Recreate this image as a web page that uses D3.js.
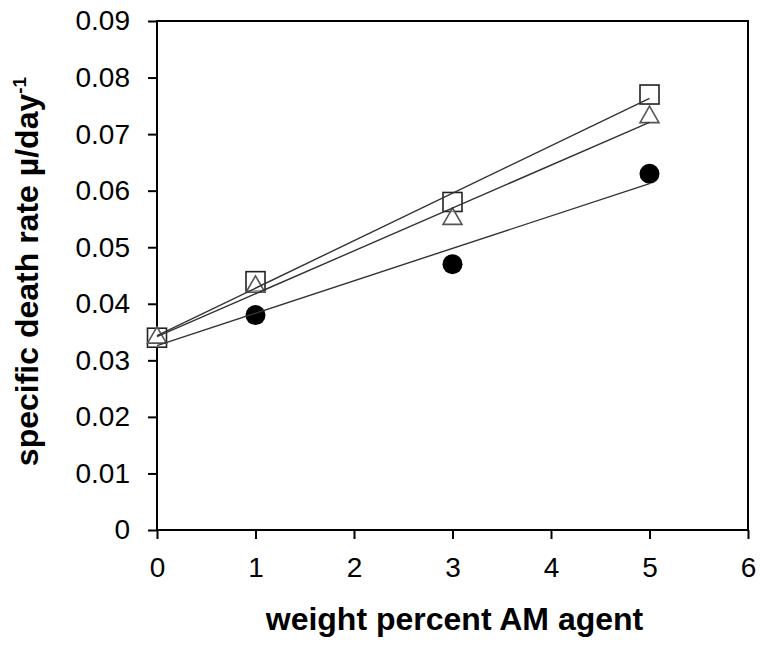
<!DOCTYPE html>
<html>
<head>
<meta charset="utf-8">
<script src="https://cdn.jsdelivr.net/npm/d3@7"></script>
<style>
  body { margin: 0; background: #fff; }
  text { font-family: "Liberation Sans", Arial, sans-serif; }
</style>
</head>
<body>
<svg width="760" height="652"></svg>
<script>
// weight percent of AM agent
var xValues = [0, 1, 3, 5];
// specific death rate for the three series (square, triangle, circle)
var squareValues = [0.034, 0.044, 0.058, 0.077];
var triangleValues = [0.034, 0.043, 0.055, 0.073];
var circleValues = [0.034, 0.038, 0.047, 0.063];

var xTicks = [0, 1, 2, 3, 4, 5, 6];
var yTicks = [0, 0.01, 0.02, 0.03, 0.04, 0.05, 0.06, 0.07, 0.08, 0.09];

var svg = d3.select("svg"),
    margin = {top: 21, right: 12, bottom: 122, left: 157},
    width = svg.attr("width") - margin.left - margin.right,
    height = svg.attr("height") - margin.top - margin.bottom,
    g = svg.append("g").attr("transform", "translate(" + margin.left + "," + margin.top + ")");

var x = d3.scaleLinear().domain([0, 6]).range([0, width]),
    y = d3.scaleLinear().domain([0, 0.09]).range([height, 0]);

// least squares fit, used for the trend lines
function fit(xs, ys) {
  var mx = d3.mean(xs), my = d3.mean(ys), sxy = 0, sxx = 0;
  for (var i = 0; i < xs.length; i++) {
    sxy += (xs[i] - mx) * (ys[i] - my);
    sxx += (xs[i] - mx) * (xs[i] - mx);
  }
  var b = sxy / sxx;
  return {slope: b, intercept: my - b * mx};
}

var series = [
  {id: "square", values: squareValues},
  {id: "triangle", values: triangleValues},
  {id: "circle", values: circleValues}
];

// axes
var xAxis = g.append("g")
    .attr("transform", "translate(0," + height + ")")
    .call(d3.axisBottom(x).tickValues(xTicks).tickSize(9).tickPadding(18).tickFormat(d3.format("d")));
var yAxis = g.append("g")
    .call(d3.axisLeft(y).tickValues(yTicks).tickSize(9).tickPadding(18)
      .tickFormat(function(d) { return d === 0 ? "0" : d3.format(".2f")(d); }));

[xAxis, yAxis].forEach(function(a) {
  a.select(".domain").remove();
  a.selectAll("line").attr("stroke", "#000").attr("stroke-width", 2);
  a.selectAll("text").attr("fill", "#000").style("font-size", "28px")
    .style("font-family", "'Liberation Sans', Arial, sans-serif");
});

// frame
g.append("rect")
    .attr("width", width)
    .attr("height", height)
    .attr("fill", "none")
    .attr("stroke", "#000")
    .attr("stroke-width", 2);

// markers (circles underneath, open markers filled white on top)
g.selectAll(".pt-circle")
  .data(circleValues)
  .enter().append("circle")
    .attr("class", "pt-circle")
    .attr("cx", function(d, i) { return x(xValues[i]); })
    .attr("cy", function(d) { return y(d); })
    .attr("r", 10)
    .attr("fill", "#000");

g.selectAll(".pt-square")
  .data(squareValues)
  .enter().append("rect")
    .attr("class", "pt-square")
    .attr("x", function(d, i) { return x(xValues[i]) - 9.5; })
    .attr("y", function(d) { return y(d) - 9.5; })
    .attr("width", 19).attr("height", 19)
    .attr("fill", "#fff")
    .attr("stroke", "#222")
    .attr("stroke-width", 1.6);

var tri = d3.symbol().type(d3.symbolTriangle).size(155);
g.selectAll(".pt-tri")
  .data(triangleValues)
  .enter().append("path")
    .attr("class", "pt-tri")
    .attr("transform", function(d, i) { return "translate(" + x(xValues[i]) + "," + y(d) + ")"; })
    .attr("d", tri)
    .attr("fill", "#fff")
    .attr("fill-opacity", 0.6)
    .attr("stroke", "#555")
    .attr("stroke-width", 1.6);

// trend lines
series.forEach(function(s) {
  var f = fit(xValues, s.values);
  var x0 = d3.min(xValues), x1 = d3.max(xValues);
  g.append("line")
      .attr("x1", x(x0)).attr("y1", y(f.intercept + f.slope * x0))
      .attr("x2", x(x1)).attr("y2", y(f.intercept + f.slope * x1))
      .attr("stroke", "#333")
      .attr("stroke-width", 1.4);
});

// axis titles
svg.append("text")
    .attr("x", margin.left + width / 2 + 2)
    .attr("y", 630)
    .attr("text-anchor", "middle")
    .style("font-size", "32px")
    .style("font-weight", "bold")
    .text("weight percent AM agent");

var yl = svg.append("text")
    .attr("transform", "translate(38," + (margin.top + height / 2 - 4) + ") rotate(-90)")
    .attr("text-anchor", "middle")
    .style("font-size", "32px")
    .style("font-weight", "bold");
yl.append("tspan").text("specific death rate \u00b5/day");
yl.append("tspan").attr("dy", -12).style("font-size", "19px").text("-1");
</script>
</body>
</html>
